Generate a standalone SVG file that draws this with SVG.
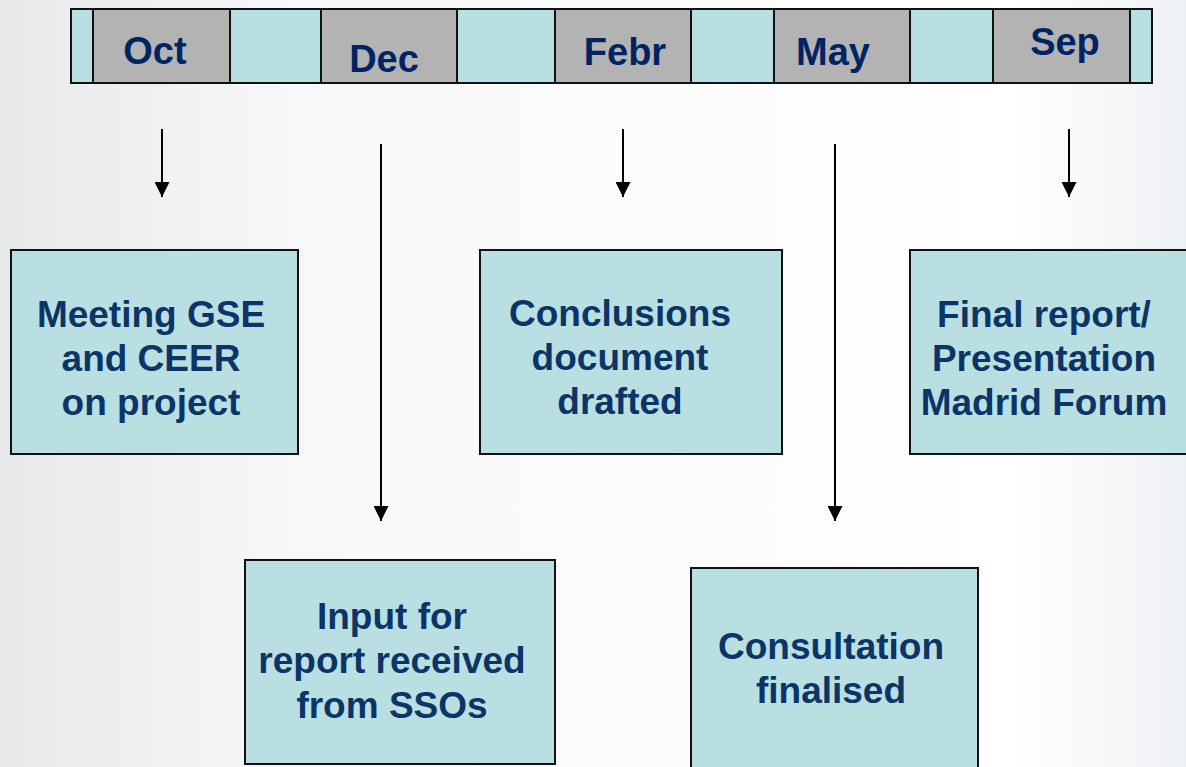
<svg xmlns="http://www.w3.org/2000/svg" width="1186" height="767" viewBox="0 0 1186 767">
<defs>
<linearGradient id="bg" x1="0" y1="0" x2="1" y2="0">
<stop offset="0" stop-color="#e6e8ea"/>
<stop offset="0.25" stop-color="#f7f8f9"/>
<stop offset="0.85" stop-color="#ffffff"/>
<stop offset="1" stop-color="#eef1f4"/>
</linearGradient>
<marker id="ah" markerWidth="15" markerHeight="15" viewBox="0 0 15 15" refX="15" refY="7.5" orient="auto" markerUnits="userSpaceOnUse">
<path d="M0,0 L15,7.5 L0,15 Z" fill="#000"/>
</marker>
<style>
.cy{fill:#b9dfe3;stroke:#111;stroke-width:2}
.gr{fill:#b3b3b3;stroke:#111;stroke-width:2}
.box{fill:#b9dfe3;stroke:#111;stroke-width:2}
.mon{font-family:"Liberation Sans",Arial,sans-serif;font-weight:bold;font-size:38px;fill:#002463;text-anchor:middle}
.lbl{font-family:"Liberation Sans",Arial,sans-serif;font-weight:bold;font-size:37px;fill:#0a3566;text-anchor:middle}
.con line{stroke:#000;stroke-width:2;marker-end:url(#ah)}
</style>
</defs>
<rect x="0" y="0" width="1186" height="767" fill="url(#bg)"/>
<g id="timeline">
<rect class="cy" x="71" y="9" width="1081" height="74"/>
<rect class="gr" x="93" y="9" width="137" height="74"/>
<rect class="gr" x="321" y="9" width="136" height="74"/>
<rect class="gr" x="555" y="9" width="136" height="74"/>
<rect class="gr" x="774" y="9" width="136" height="74"/>
<rect class="gr" x="993" y="9" width="137" height="74"/>
<text class="mon" x="155" y="64">Oct</text>
<text class="mon" x="384" y="72">Dec</text>
<text class="mon" x="625" y="65">Febr</text>
<text class="mon" x="833" y="65">May</text>
<text class="mon" x="1065" y="55">Sep</text>
</g>
<g id="connectors" class="con">
<line x1="162" y1="129" x2="162" y2="197"/>
<line x1="623" y1="129" x2="623" y2="197"/>
<line x1="1069" y1="129" x2="1069" y2="197"/>
<line x1="381" y1="144" x2="381" y2="521"/>
<line x1="835" y1="144" x2="835" y2="521"/>
</g>
<g id="meeting">
<rect class="box" x="11" y="250" width="287" height="204"/>
<text class="lbl" x="151" y="327">Meeting GSE</text>
<text class="lbl" x="151" y="371">and CEER</text>
<text class="lbl" x="151" y="415">on project</text>
</g>
<g id="conclusions">
<rect class="box" x="480" y="250" width="302" height="204"/>
<text class="lbl" x="620" y="326">Conclusions</text>
<text class="lbl" x="620" y="370">document</text>
<text class="lbl" x="620" y="414">drafted</text>
</g>
<g id="final">
<rect class="box" x="910" y="250" width="290" height="204"/>
<text class="lbl" x="1044" y="327">Final report/</text>
<text class="lbl" x="1044" y="371">Presentation</text>
<text class="lbl" x="1044" y="415">Madrid Forum</text>
</g>
<g id="input">
<rect class="box" x="245" y="560" width="310" height="204"/>
<text class="lbl" x="392" y="629">Input for</text>
<text class="lbl" x="392" y="673">report received</text>
<text class="lbl" x="392" y="718">from SSOs</text>
</g>
<g id="consultation">
<rect class="box" x="691" y="568" width="287" height="210"/>
<text class="lbl" x="831" y="659">Consultation</text>
<text class="lbl" x="831" y="703">finalised</text>
</g>
</svg>
